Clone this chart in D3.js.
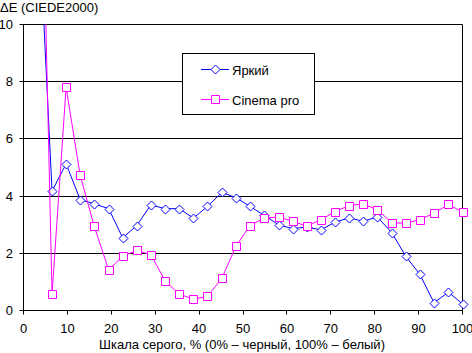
<!DOCTYPE html>
<html lang="ru">
<head>
<meta charset="UTF-8">
<title>ΔE (CIEDE2000)</title>
<script src="https://d3js.org/d3.v7.min.js"></script>
<style>
  body { margin: 0; background: #fff; }
  svg { display: block; font-family: "Liberation Sans", Arial, sans-serif; }
  .tick-label { font-size: 13px; fill: #000; }
</style>
</head>
<body>
<svg id="chart" width="472" height="353"></svg>
<script>
// grey level, %
const grayPct = [3.2, 6.5, 9.7, 12.9, 16.1, 19.4, 22.6, 25.8, 29.0, 32.3, 35.5, 38.7, 41.9, 45.2, 48.4, 51.6,
                 54.8, 58.1, 61.3, 64.5, 67.7, 71.0, 74.2, 77.4, 80.6, 83.9, 87.1, 90.3, 93.5, 96.8, 100];
const brightVals = [14.6, 4.17, 5.13, 3.88, 3.73, 3.56, 2.54, 2.97, 3.69, 3.56, 3.56, 3.23, 3.64, 4.13, 3.94, 3.64,
                    3.33, 3.0, 2.86, 2.92, 2.82, 3.09, 3.24, 3.12, 3.27, 2.72, 1.89, 1.26, 0.27, 0.64, 0.23];
const cinemaVals = [22.8, 0.57, 7.81, 4.73, 2.95, 1.42, 1.9, 2.1, 1.95, 1.03, 0.57, 0.40, 0.49, 1.13, 2.25, 2.97,
                    3.23, 3.27, 3.12, 2.95, 3.17, 3.46, 3.67, 3.73, 3.52, 3.07, 3.05, 3.18, 3.4, 3.71, 3.44];
const xTicks = [0, 10, 20, 30, 40, 50, 60, 70, 80, 90, 100];
const yTicks = [0, 2, 4, 6, 8, 10];

const series = [
  {name: "Яркий", values: brightVals, color: "#0000ff", marker: "diamond"},
  {name: "Cinema pro", values: cinemaVals, color: "#ff00ff", marker: "square"}
];

const svg = d3.select("#chart");
const x = d3.scaleLinear().domain([0, 100]).range([23.5, 462.5]);
const y = d3.scaleLinear().domain([0, 10]).range([310.5, 24.5]);

svg.append("defs").append("clipPath").attr("id", "plot")
  .append("rect").attr("x", x(0)).attr("y", y(10)).attr("width", x(100) - x(0)).attr("height", y(0) - y(10));

// gridlines
svg.append("g").selectAll("line").data(yTicks).join("line")
  .attr("x1", x(0) - 4).attr("x2", x(100))
  .attr("y1", d => Math.round(y(d) - 0.5) + 0.5).attr("y2", d => Math.round(y(d) - 0.5) + 0.5)
  .attr("stroke", "#000").attr("stroke-width", 1);

// axis lines
svg.append("line").attr("x1", x(0)).attr("x2", x(0)).attr("y1", y(10)).attr("y2", y(0)).attr("stroke", "#000");
svg.append("line").attr("x1", x(100)).attr("x2", x(100)).attr("y1", y(10)).attr("y2", y(0)).attr("stroke", "#000");

// x ticks
svg.append("g").selectAll("line").data(xTicks).join("line")
  .attr("x1", d => Math.round(x(d) - 0.5) + 0.5).attr("x2", d => Math.round(x(d) - 0.5) + 0.5)
  .attr("y1", y(0)).attr("y2", y(0) + 4).attr("stroke", "#000");

svg.append("g").selectAll("text").data(xTicks).join("text")
  .attr("class", "tick-label")
  .attr("x", d => x(d)).attr("y", 332.5)
  .attr("text-anchor", "middle").text(d => d);

svg.append("g").selectAll("text").data(yTicks).join("text")
  .attr("class", "tick-label")
  .attr("x", 13).attr("y", d => y(d) + 4.5)
  .attr("text-anchor", "end").text(d => d);

svg.append("text").attr("class", "tick-label").attr("x", 0).attr("y", 12).text("ΔE (CIEDE2000)");
svg.append("text").attr("class", "tick-label").attr("x", 242).attr("y", 349)
  .attr("text-anchor", "middle").text("Шкала серого, % (0% – черный, 100% – белый)");

const line = d3.line().x(d => x(d[0])).y(d => y(d[1]));

function markerPath(type, cx, cy) {
  if (type === "diamond") {
    return `M${cx},${cy - 4.5}L${cx + 4.5},${cy}L${cx},${cy + 4.5}L${cx - 4.5},${cy}Z`;
  }
  return `M${cx - 4},${cy - 4}h8v8h-8Z`;
}

series.forEach(s => {
  const pts = grayPct.map((g, i) => [g, s.values[i]]);
  svg.append("path").datum(pts)
    .attr("clip-path", "url(#plot)")
    .attr("fill", "none").attr("stroke", s.color).attr("stroke-width", 1)
    .attr("d", line);
  svg.append("g").selectAll("path").data(pts.filter(p => p[1] <= 10)).join("path")
    .attr("d", p => markerPath(s.marker, Math.round(x(p[0])) + 0.5, Math.round(y(p[1])) + 0.5))
    .attr("fill", "#fff").attr("stroke", s.color).attr("stroke-width", 1);
});

// legend
const legend = svg.append("g");
legend.append("rect").attr("x", 182.5).attr("y", 53.5).attr("width", 132).attr("height", 61)
  .attr("fill", "#fff").attr("stroke", "#000");
series.forEach((s, i) => {
  const ly = 69.5 + i * 30;
  legend.append("line").attr("x1", 201).attr("x2", 229).attr("y1", ly).attr("y2", ly).attr("stroke", s.color);
  legend.append("path").attr("d", markerPath(s.marker, 215.5, ly))
    .attr("fill", "#fff").attr("stroke", s.color);
  legend.append("text").attr("class", "tick-label").attr("x", 232).attr("y", ly + 5).text(s.name);
});
</script>
</body>
</html>
